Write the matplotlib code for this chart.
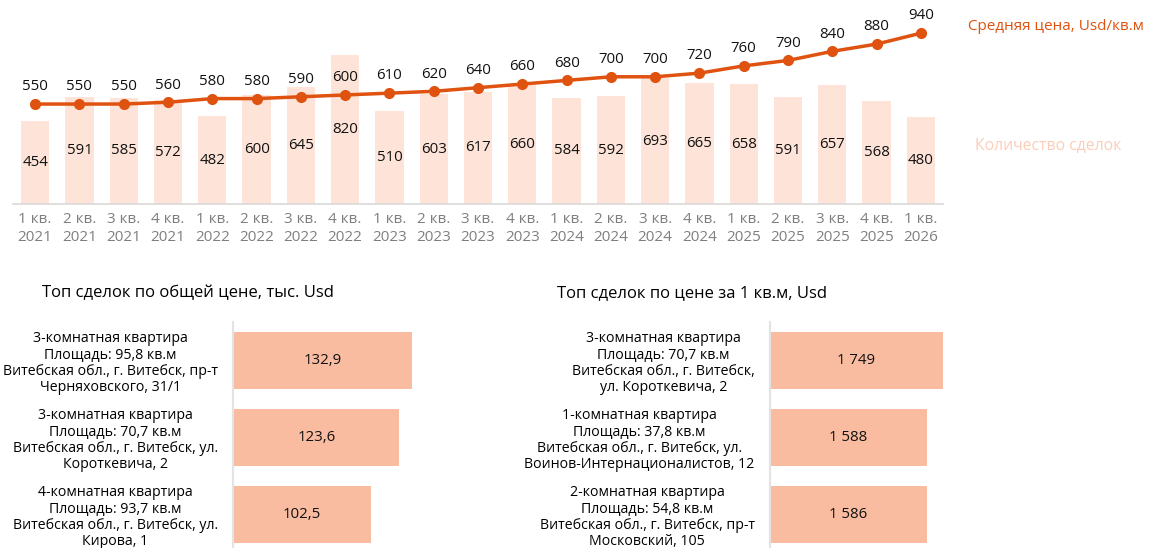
import matplotlib
matplotlib.use("Agg")
import matplotlib.pyplot as plt

plt.rcParams['font.family'] = ['Open Sans', 'DejaVu Sans']

# Quarterly data
quarters = ["1 кв.\n2021", "2 кв.\n2021", "3 кв.\n2021", "4 кв.\n2021",
            "1 кв.\n2022", "2 кв.\n2022", "3 кв.\n2022", "4 кв.\n2022",
            "1 кв.\n2023", "2 кв.\n2023", "3 кв.\n2023", "4 кв.\n2023",
            "1 кв.\n2024", "2 кв.\n2024", "3 кв.\n2024", "4 кв.\n2024",
            "1 кв.\n2025", "2 кв.\n2025", "3 кв.\n2025", "4 кв.\n2025",
            "1 кв.\n2026"]
deals_count = [454, 591, 585, 572, 482, 600, 645, 820, 510, 603, 617, 660,
               584, 592, 693, 665, 658, 591, 657, 568, 480]
avg_price = [550, 550, 550, 560, 580, 580, 590, 600, 610, 620, 640, 660,
             680, 700, 700, 720, 760, 790, 840, 880, 940]

# Top deals by total price
total_labels = ["3-комнатная квартира\nПлощадь: 95,8 кв.м\nВитебская обл., г. Витебск, пр-т\nЧерняховского, 31/1",
                "3-комнатная квартира\nПлощадь: 70,7 кв.м\nВитебская обл., г. Витебск, ул.\nКороткевича, 2",
                "4-комнатная квартира\nПлощадь: 93,7 кв.м\nВитебская обл., г. Витебск, ул.\nКирова, 1"]
total_values = [132.9, 123.6, 102.5]

# Top deals by price per sq.m
sqm_labels = ["3-комнатная квартира\nПлощадь: 70,7 кв.м\nВитебская обл., г. Витебск,\nул. Короткевича, 2",
              "1-комнатная квартира\nПлощадь: 37,8 кв.м\nВитебская обл., г. Витебск, ул.\nВоинов-Интернационалистов, 12",
              "2-комнатная квартира\nПлощадь: 54,8 кв.м\nВитебская обл., г. Витебск, пр-т\nМосковский, 105"]
sqm_values = [1749, 1588, 1586]

LINE_C = "#e0520f"
BAR_C = "#fde3d8"
LEG_BAR_C = "#fbcdb8"
HBAR_C = "#f9bca0"

W, H = 1150, 548
fig = plt.figure(figsize=(W / 100, H / 100), dpi=100)


def px_axes(x0, y0, x1, y1):
    return fig.add_axes([x0 / W, 1 - y1 / H, (x1 - x0) / W, (y1 - y0) / H])


# Top combined chart
ax = px_axes(13, 15, 943, 204)
x = list(range(len(quarters)))
ax.bar(x, deals_count, width=0.64, color=BAR_C, zorder=1)
ax.plot(x, avg_price, color=LINE_C, lw=2.5, marker="o", ms=7, zorder=3)
for i, (c, p) in enumerate(zip(deals_count, avg_price)):
    ax.text(i, c / 2, str(c), ha="center", va="center", fontsize=10.8, color="#111111")
    ax.annotate(str(p), (i, p), xytext=(0, 7), textcoords="offset points",
                ha="center", va="bottom", fontsize=10.8, color="#111111")
ax.set_xlim(-0.5, len(quarters) - 0.5)
ax.set_ylim(0, 1040)
ax.set_xticks(x)
ax.set_xticklabels(quarters, fontsize=11, color="#7f7f7f", linespacing=1.25)
ax.tick_params(axis="x", length=0, pad=6)
ax.set_yticks([])
for s in ["top", "right", "left"]:
    ax.spines[s].set_visible(False)
ax.spines["bottom"].set_color("#d9d9d9")
ax.spines["bottom"].set_linewidth(1.2)

fig.text(968 / W, 1 - 26 / H, "Средняя цена, Usd/кв.м", color=LINE_C,
         fontsize=11, va="center", ha="left")
fig.text(975 / W, 1 - 145 / H, "Количество сделок", color=LEG_BAR_C,
         fontsize=11.3, va="center", ha="left")


def hbar_panel(x0, x1, scale, labels, values, fmt, title, title_x):
    hx = px_axes(x0, 322, x1, 548)
    y = list(range(len(values)))
    hx.barh(y, values, height=0.74, color=HBAR_C)
    for i, v in enumerate(values):
        hx.text(v / 2, i, fmt(v), ha="center", va="center", fontsize=10.8, color="#111111")
    hx.set_xlim(0, (x1 - x0) / scale)
    hx.set_ylim(2.435, -0.5)
    hx.set_xticks([])
    hx.set_yticks(y)
    hx.set_yticklabels(labels, fontsize=10.2, multialignment="center", linespacing=1.13)
    hx.tick_params(axis="y", length=0, pad=11)
    for s in ["top", "right", "bottom"]:
        hx.spines[s].set_visible(False)
    hx.spines["left"].set_color("#e3e3e3")
    hx.spines["left"].set_linewidth(1.5)
    fig.text(title_x / W, 1 - 293 / H, title, fontsize=12, ha="left", va="center")


hbar_panel(233, 480, 179 / 132.9, total_labels, total_values,
           lambda v: f"{v:.1f}".replace(".", ","),
           "Топ сделок по общей цене, тыс. Usd", 42)
hbar_panel(770, 1000, 173 / 1749, sqm_labels, sqm_values,
           lambda v: f"{v:,}".replace(",", " "),
           "Топ сделок по цене за 1 кв.м, Usd", 557)

fig.savefig("out.png", dpi=100)
